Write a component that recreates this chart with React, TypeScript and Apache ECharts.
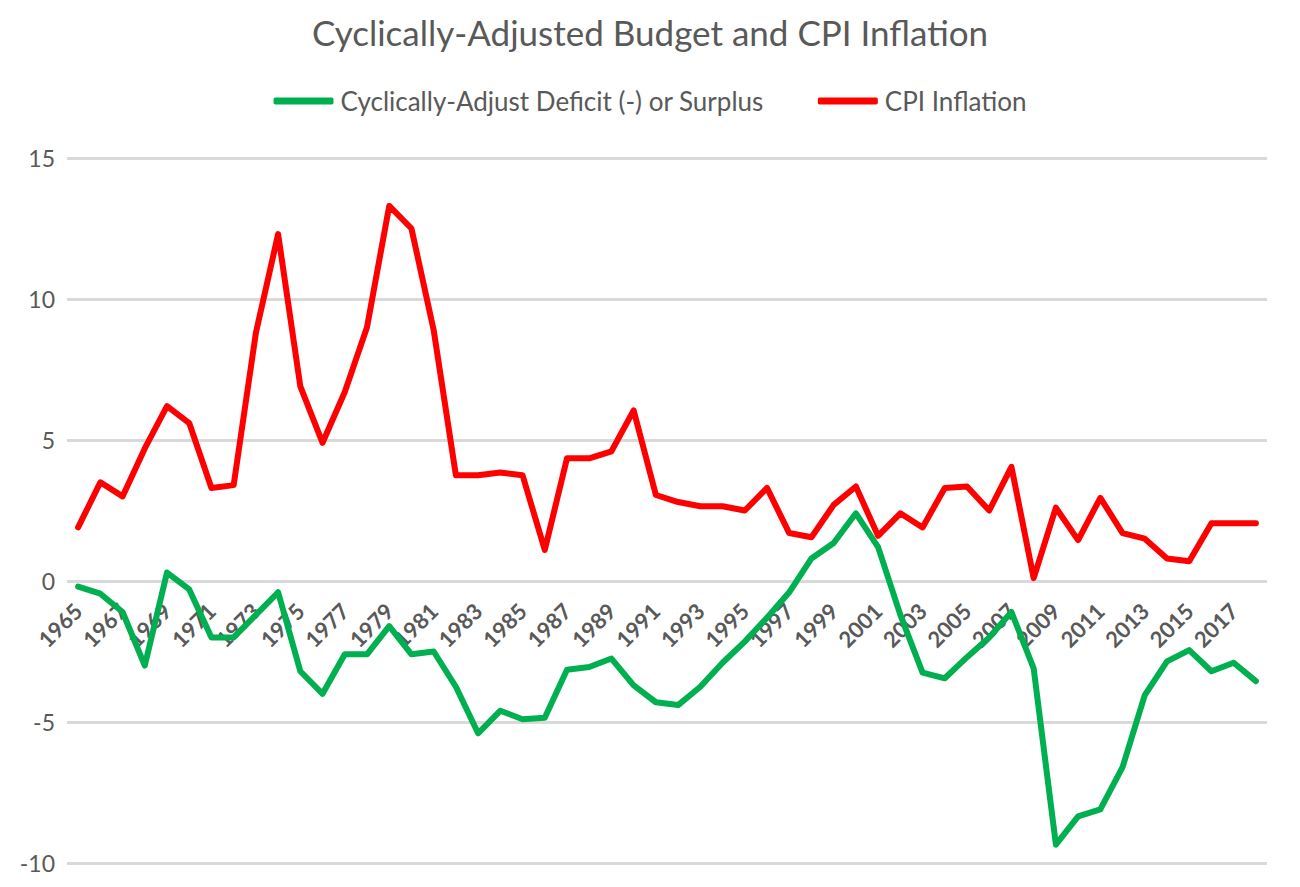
import React, { useEffect, useRef } from "react";
import * as echarts from "echarts";

const years: string[] = [];
for (let y = 1965; y <= 2018; y++) years.push(String(y));

const budget = [
  -0.2, -0.45, -1.1, -3.0, 0.3, -0.3, -2.0, -2.0, -1.2, -0.4,
  -3.2, -4.0, -2.6, -2.6, -1.6, -2.6, -2.5, -3.75, -5.4, -4.6,
  -4.9, -4.85, -3.15, -3.05, -2.75, -3.7, -4.3, -4.4, -3.75, -2.9,
  -2.15, -1.3, -0.4, 0.8, 1.35, 2.4, 1.2, -1.2, -3.25, -3.45,
  -2.7, -2.0, -1.1, -3.1, -9.35, -8.35, -8.1, -6.6, -4.05, -2.85,
  -2.45, -3.2, -2.9, -3.55,
];

const cpi = [
  1.9, 3.5, 3.0, 4.7, 6.2, 5.6, 3.3, 3.4, 8.8, 12.3,
  6.9, 4.9, 6.7, 9.0, 13.3, 12.5, 8.9, 3.75, 3.75, 3.85,
  3.75, 1.1, 4.35, 4.35, 4.6, 6.05, 3.05, 2.8, 2.65, 2.65,
  2.5, 3.3, 1.7, 1.55, 2.7, 3.35, 1.6, 2.4, 1.9, 3.3,
  3.35, 2.5, 4.05, 0.1, 2.6, 1.45, 2.95, 1.7, 1.5, 0.8,
  0.7, 2.05, 2.05, 2.05,
];

const yMin = -10;
const yMax = 15;
const budgetName = "Cyclically-Adjust Deficit (-) or Surplus";
const cpiName = "CPI Inflation";
const titleText = "Cyclically-Adjusted Budget and CPI Inflation";

export default function App() {
  const ref = useRef<HTMLDivElement>(null);
  useEffect(() => {
    if (!ref.current) return;
    const chart = echarts.init(ref.current, undefined, { renderer: "svg" });
    const font = "Lato, 'Open Sans', sans-serif";
    const gridTop = 158;
    const gridBottom = 24;
    const plotH = 887 - gridTop - gridBottom;
    // shift the category axis up to the zero line of the value axis (labels sit a little below it)
    const zeroOffset = -Math.round((plotH * (0 - yMin)) / (yMax - yMin)) + 14;
    chart.setOption({
      animation: false,
      backgroundColor: "#ffffff",
      title: {
        text: titleText,
        left: "center",
        top: 9,
        textStyle: { fontFamily: font, fontSize: 35, fontWeight: "normal", color: "#595959" },
      },
      legend: {
        top: 83,
        left: "center",
        itemWidth: 60,
        itemHeight: 7,
        itemGap: 54,
        icon: "roundRect",
        textStyle: { fontFamily: font, fontSize: 26, color: "#595959", padding: [0, 0, 0, 2] },
        data: [budgetName, cpiName],
      },
      grid: { left: 67, right: 33, top: gridTop, bottom: gridBottom, containLabel: false, outerBoundsMode: "none" },
      xAxis: {
        type: "category",
        data: years,
        boundaryGap: true,
        offset: zeroOffset,
        axisLine: { show: false, onZero: false },
        axisTick: { show: false },
        axisLabel: {
          interval: 1,
          rotate: 45,
          margin: 12,
          fontFamily: font,
          fontSize: 22,
          fontWeight: "bold",
          color: "#595959",
        },
      },
      yAxis: {
        type: "value",
        min: yMin,
        max: yMax,
        interval: 5,
        axisLine: { show: false },
        axisTick: { show: false },
        axisLabel: { fontFamily: font, fontSize: 23, color: "#595959", margin: 12 },
        splitLine: { lineStyle: { color: "#d9d9d9", width: 3 } },
      },
      series: [
        {
          name: budgetName,
          type: "line",
          data: budget,
          symbol: "none",
          lineStyle: { color: "#00b050", width: 6, join: "round", cap: "round" },
          itemStyle: { color: "#00b050" },
          z: 3,
        },
        {
          name: cpiName,
          type: "line",
          data: cpi,
          symbol: "none",
          lineStyle: { color: "#ff0000", width: 6, join: "round", cap: "round" },
          itemStyle: { color: "#ff0000" },
          z: 2,
        },
      ],
    });
    return () => chart.dispose();
  }, []);
  return <div ref={ref} style={{ width: 1300, height: 887, margin: -8 }} />;
}
